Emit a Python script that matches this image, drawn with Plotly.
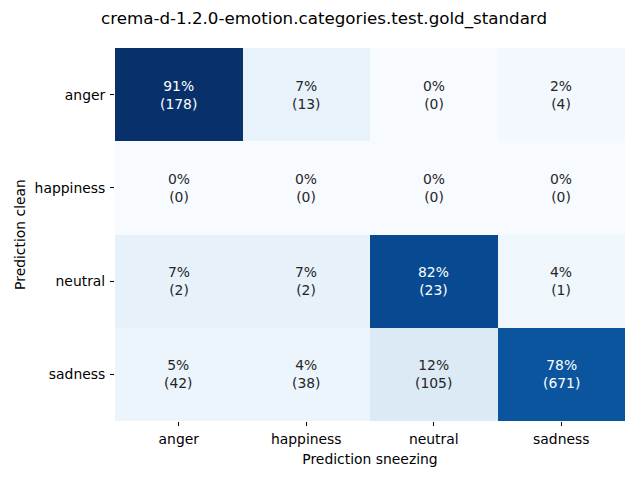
import plotly.graph_objects as go

classes = ["anger", "happiness", "neutral", "sadness"]
counts = [
    [178, 13, 0, 4],
    [0, 0, 0, 0],
    [2, 2, 23, 1],
    [42, 38, 105, 671],
]
title = "crema-d-1.2.0-emotion.categories.test.gold_standard"
x_label = "Prediction sneezing"
y_label = "Prediction clean"

pct = []
for row in counts:
    s = sum(row)
    pct.append([100.0 * c / s if s else 0.0 for c in row])
vmax = max(max(r) for r in pct)

fig = go.Figure(go.Heatmap(
    z=pct, x=classes, y=classes, colorscale="Blues", zmin=0, zmax=vmax,
    showscale=False, xgap=0, ygap=0, hoverinfo="skip",
))

for i, yc in enumerate(classes):
    for j, xc in enumerate(classes):
        p = pct[i][j]
        fig.add_annotation(
            x=xc, y=yc, text=f"{p:.0f}%<br>({counts[i][j]})", showarrow=False,
            font=dict(color="white" if p / vmax > 0.55 else "#262626", size=13.9,
                      family="DejaVu Sans"),
        )

fig.update_layout(
    width=632, height=472,
    margin=dict(l=107, r=15, t=40, b=59),
    paper_bgcolor="white", plot_bgcolor="white",
    font=dict(family="DejaVu Sans", size=13.9, color="black"),
    title=dict(text=title, x=0.5, xanchor="center", y=1 - 10 / 472, yanchor="middle",
               font=dict(size=16.7)),
)
fig.update_xaxes(title=dict(text=x_label, standoff=8, font=dict(size=13.9)),
                 ticks="outside", ticklen=4, ticklabelstandoff=1,
                 tickcolor="black", showgrid=False, showline=False, zeroline=False)
fig.update_yaxes(title=dict(text=y_label, standoff=5, font=dict(size=13.9)),
                 ticks="outside", ticklen=4, ticklabelstandoff=2,
                 tickcolor="black", showgrid=False, showline=False, zeroline=False,
                 autorange="reversed")

fig.write_html("out.html")
